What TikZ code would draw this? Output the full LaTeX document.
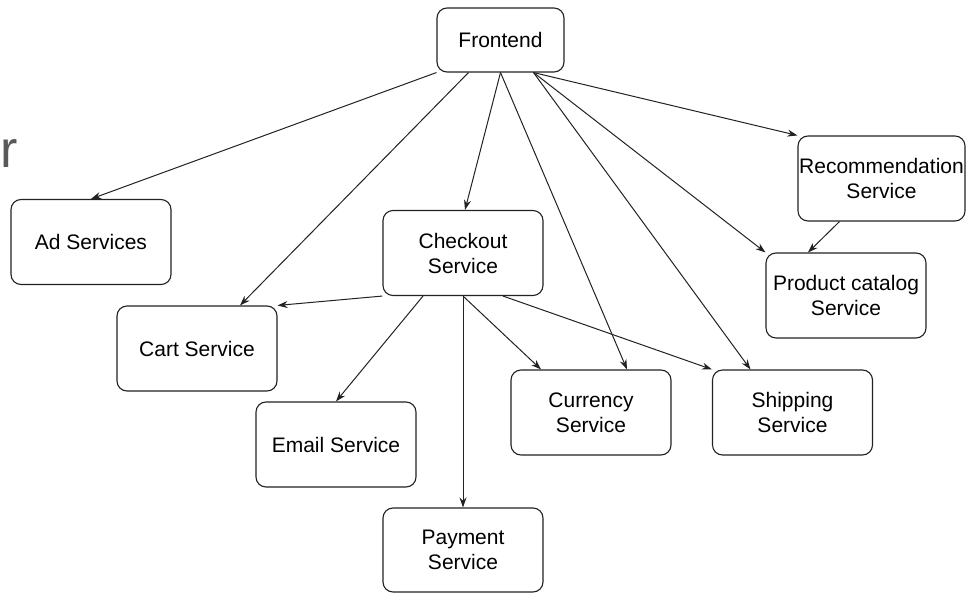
\documentclass[tikz,border=0pt]{standalone}
\usepackage{fontspec}
\setmainfont{Liberation Sans}
\usetikzlibrary{arrows.meta}
\definecolor{edge}{HTML}{222222}
\begin{document}
\begin{tikzpicture}[x=1pt,y=-1pt,
  box/.style={draw=edge, rounded corners=10pt, line width=1.1pt, minimum width=160pt, minimum height=85pt, align=center, font=\fontsize{21}{25}\selectfont, inner sep=0pt, fill=white},
  arr/.style={draw=edge, -{Stealth[length=10pt,width=7pt]}, line width=1pt}]
\useasboundingbox (0,0) rectangle (966,593);
\node[anchor=base west, inner sep=0pt, text=black!65, font=\fontsize{52}{52}\selectfont] (rr) at (0,168) {r};
\node[box, minimum width=127pt, minimum height=64pt] (fe) at (500.5,40) {Frontend};
\node[box] (ad) at (91,242) {Ad Services};
\node[box] (co) at (463,253) {Checkout\\Service};
\node[box, minimum width=167pt] (rec) at (881.5,178.5) {Recommendation\\Service};
\node[box] (pc) at (846,295.5) {Product catalog\\Service};
\node[box] (cart) at (197,348.5) {Cart Service};
\node[box] (em) at (336,444.5) {Email Service};
\node[box] (cur) at (591,412.5) {Currency\\Service};
\node[box] (sh) at (792.5,412.5) {Shipping\\Service};
\node[box, minimum height=84pt] (pay) at (463,550) {Payment\\Service};
% Frontend edges
\draw[arr] (fe.south west) -- (ad.north);
\draw[arr] ([xshift=-32pt]fe.south) -- ([xshift=43pt]cart.north);
\draw[arr] (fe.south) -- ([xshift=2pt]co.north);
\draw[arr] (fe.south) -- ([xshift=36pt]cur.north);
\draw[arr] ([xshift=33pt]fe.south) -- ([xshift=-42pt]sh.north);
\draw[arr] ([xshift=33pt]fe.south) -- (pc.north west);
\draw[arr] ([xshift=33pt]fe.south) -- (rec.north west);
\draw[arr] ([xshift=-42pt]rec.south) -- ([xshift=-38pt]pc.north);
% Checkout edges
\draw[arr] (co.south west) -- (cart.north east);
\draw[arr] ([xshift=-40pt]co.south) -- (em.north);
\draw[arr] (co.south) -- (pay.north);
\draw[arr] (co.south) -- ([xshift=-50pt]cur.north);
\draw[arr] ([xshift=40pt]co.south) -- (sh.north west);
\end{tikzpicture}
\end{document}
